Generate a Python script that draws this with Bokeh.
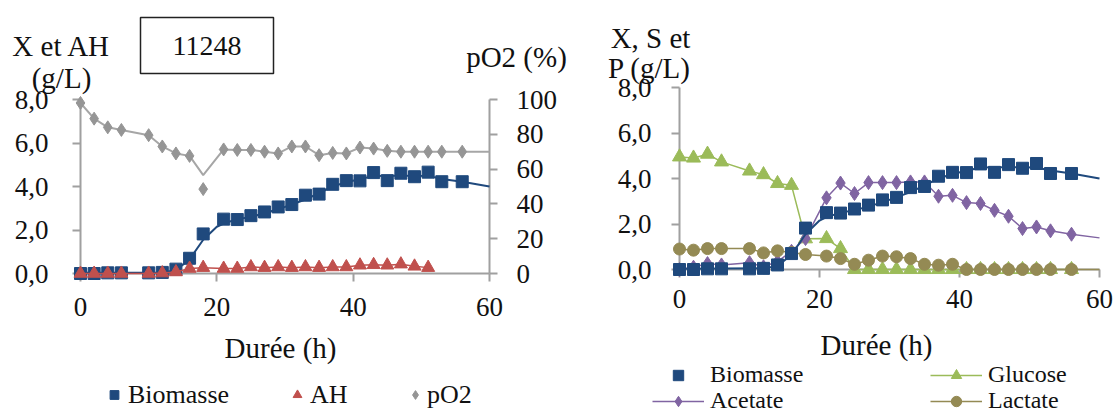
from bokeh.plotting import figure
from bokeh.models import (Range1d, LinearAxis, FixedTicker, CustomJSTickFormatter,
                          Legend, LegendItem)
from bokeh.core.properties import value
from bokeh.layouts import row
from bokeh.embed import file_html
from bokeh.resources import INLINE

# ---------------- data ----------------
t_samp = [0, 2, 4, 6, 10, 12, 14, 16, 18, 21, 23, 25, 27, 29, 31, 33, 35, 37, 39,
          41, 43, 45, 47, 49, 51, 53, 56]
biomasse = [0.0, 0.0, 0.03, 0.03, 0.03, 0.05, 0.2, 0.7, 1.82, 2.5, 2.48, 2.66, 2.83,
            3.06, 3.17, 3.6, 3.65, 4.1, 4.27, 4.26, 4.64, 4.27, 4.61, 4.45, 4.66, 4.22, 4.22]
t_model = [0, 12, 14, 16, 18, 20, 21, 23, 25, 29, 33, 35, 37, 39, 43, 47, 51, 53, 56, 60]
biomasse_model = [0.03, 0.05, 0.15, 0.65, 1.55, 2.15, 2.3, 2.5, 2.6, 2.95, 3.4, 3.7,
                  4.0, 4.2, 4.48, 4.5, 4.48, 4.35, 4.22, 4.0]

t_ah = [0, 2, 4, 6, 10, 12, 14, 16, 18, 21, 23, 25, 27, 29, 31, 33, 35, 37, 39,
        41, 43, 45, 47, 49, 51]
ah = [0.0, 0.0, 0.0, 0.0, 0.0, 0.02, 0.07, 0.23, 0.27, 0.23, 0.23, 0.3, 0.27, 0.3,
      0.27, 0.3, 0.27, 0.3, 0.3, 0.38, 0.4, 0.38, 0.43, 0.33, 0.27]

po2 = [98, 89, 84, 82.5, 79.5, 73, 69, 67.6, 48.5, 71.3, 71, 71, 70, 69, 73, 73, 68,
       69.3, 69, 72.4, 71.8, 70.5, 70, 70, 70, 70, 70]
t_po2_line = [0, 2, 4, 6, 10, 12, 14, 16, 18, 21, 23, 25, 27, 29, 31, 33, 35, 37, 39,
              41, 43, 45, 47, 49, 51, 53, 56, 60]
po2_line = [98, 89, 84, 82.5, 79.5, 73, 69, 67.6, 56.5, 71.3, 71, 71, 70, 69, 73, 73, 68,
            69.3, 69, 72.4, 71.8, 70.5, 70, 70, 70, 70, 70, 70]

glucose = [4.95, 4.9, 5.07, 4.73, 4.33, 4.17, 3.78, 3.7, 1.35, 1.36, 0.92, 0, 0, 0, 0,
           0, 0, 0, 0, 0, 0, 0, 0, 0, 0, 0, 0]
acetate = [0.0, 0.1, 0.26, 0.2, 0.3, 0.12, 0.35, 0.8, 1.36, 3.15, 3.8, 3.34, 3.82, 3.82,
           3.82, 3.85, 3.85, 3.22, 3.26, 2.94, 2.9, 2.6, 2.34, 1.8, 1.87, 1.7, 1.55]
lactate = [0.9, 0.85, 0.92, 0.92, 0.92, 0.73, 0.82, 0.75, 0.66, 0.59, 0.48, 0.23, 0.41,
           0.59, 0.56, 0.48, 0.23, 0.19, 0.23, 0, 0, 0, 0, 0, 0, 0, 0]
t_end = [60]
acetate_end = [1.39]
lactate_end = [0.0]

x_ticks = [0, 20, 40, 60]
y_ticks = [0, 2, 4, 6, 8]
o2_ticks = [0, 20, 40, 60, 80, 100]

# ---------------- style ----------------
FONT = "Liberation Serif"
TXT = "#111111"
GREY_AX = "#A0A0A0"
BLUE = "#1F497D"
RED = "#C0504D"
GREY = "#959595"
GREEN = "#9BBB59"
PURPLE = "#8064A2"
OLIVE = "#948A54"
TICK_FS = "27px"
TITLE_FS = "29px"
TICK_LEN = 8
FIG_H = 409


def tx(g, px):
    return (px - g["fx0"]) / g["sx"]


def vy(g, py):
    return (g["fy0"] - py) / g["sy"]


def style_axis(ax, standoff):
    ax.axis_line_color = GREY_AX
    ax.axis_line_width = 2
    ax.major_tick_line_color = GREY_AX
    ax.major_tick_line_width = 2
    ax.major_tick_out = TICK_LEN
    ax.major_tick_in = 0
    ax.minor_tick_line_color = None
    ax.minor_tick_out = 0
    ax.minor_tick_in = 0
    ax.major_label_text_font = FONT
    ax.major_label_text_font_size = TICK_FS
    ax.major_label_text_color = TXT
    ax.major_label_standoff = standoff
    ax.level = "underlay"


def comma_fmt():
    return CustomJSTickFormatter(code="return tick.toFixed(1).replace('.', ',')")


def make_fig(width, page_left, fx0, fx1, fy0, fy1, ymax):
    # the frame fills the whole canvas; fx0/fx1: page x of t=0 / t=60,
    # fy0/fy1: page y of 0 / ymax
    sx = (fx1 - fx0) / 60.0
    sy = (fy0 - fy1) / ymax
    g = dict(fx0=fx0, fy0=fy0, sx=sx, sy=sy, ymax=ymax, left=page_left)
    p = figure(width=width, height=FIG_H,
               x_range=Range1d(tx(g, page_left), tx(g, page_left + width)),
               y_range=Range1d(vy(g, FIG_H), vy(g, 0)),
               x_axis_location=None, y_axis_location=None,
               output_backend="svg", toolbar_location=None,
               min_border_left=0, min_border_right=0,
               min_border_top=0, min_border_bottom=0)
    p.grid.visible = False
    p.outline_line_color = None
    p.background_fill_color = "white"
    p.border_fill_color = "white"
    return p, g


def add_texts(p, g, texts, pxs, pys, size=TITLE_FS, baseline="alphabetic"):
    p.text(x=[tx(g, v) for v in pxs], y=[vy(g, v) for v in pys], text=texts,
           text_font=value(FONT), text_font_size=value(size), text_color=TXT,
           text_align="center", text_baseline=baseline)


def add_legend(p, g, label, renderers, px_left, py_mid, gw, standoff, fs, h):
    leg = Legend(items=[LegendItem(label=label, renderers=renderers)],
                 location=(px_left - g["left"], FIG_H - (py_mid + h / 2)),
                 orientation="horizontal", padding=0, margin=0, spacing=0,
                 glyph_width=gw, glyph_height=h, label_standoff=standoff,
                 label_height=h, label_text_font=FONT, label_text_font_size=fs,
                 label_text_color=TXT, border_line_alpha=0, background_fill_alpha=0)
    p.add_layout(leg)


# ================= left chart =================
p1, g1 = make_fig(590, 0, 80, 489, 273, 99, 8)
o2_scale = 100 / 8
p1.extra_y_ranges = {"o2": Range1d(p1.y_range.start * o2_scale, p1.y_range.end * o2_scale)}

axl = LinearAxis(fixed_location=0, bounds=(0, 8), ticker=FixedTicker(ticks=y_ticks),
                 formatter=comma_fmt())
style_axis(axl, 24)
p1.add_layout(axl, "left")
axb = LinearAxis(fixed_location=0, bounds=(0, 60), ticker=FixedTicker(ticks=x_ticks))
style_axis(axb, 16)
p1.add_layout(axb, "below")
axr = LinearAxis(y_range_name="o2", fixed_location=60, bounds=(0, 100),
                 ticker=FixedTicker(ticks=o2_ticks))
style_axis(axr, 19)
p1.add_layout(axr, "right")

p1.line(t_po2_line, po2_line, y_range_name="o2", line_color="#A6A6A6", line_width=2)
r_po2 = p1.scatter(t_samp, po2, y_range_name="o2", marker="diamond", size=13,
                   fill_color=GREY, line_color=GREY)
p1.line(t_model, biomasse_model, line_color=BLUE, line_width=2)
r_bio1 = p1.scatter(t_samp, biomasse, marker="square", size=12, fill_color=BLUE,
                    line_color=BLUE)
p1.line(t_ah, ah, line_color=RED, line_width=1.5)
r_ah = p1.scatter(t_ah, ah, marker="triangle", size=13, fill_color=RED, line_color=RED)

# strain box and titles
p1.rect(x=[tx(g1, 206.5)], y=[vy(g1, 45)], width=133, height=56, width_units="screen",
        height_units="screen", fill_color="white", line_color="#222222", line_width=1.5)
add_texts(p1, g1, ["11248"], [206.5], [45], size="28px", baseline="middle")
add_texts(p1, g1, ["X et AH", "(g/L)", "pO2 (%)"], [61, 61, 516], [45, 77, 56])
add_texts(p1, g1, ["Durée (h)"], [280], [347], baseline="middle")

add_legend(p1, g1, "Biomasse", [r_bio1], 103, 395, 22, 3, "26px", 29)
add_legend(p1, g1, "AH", [r_ah], 286, 395, 22, 2, "26px", 29)
add_legend(p1, g1, "pO2", [r_po2], 404, 395, 22, 1, "26px", 29)

# ================= right chart =================
p2, g2 = make_fig(526, 590, 679, 1099, 269, 87, 8)

axl2 = LinearAxis(fixed_location=0, bounds=(0, 8), ticker=FixedTicker(ticks=y_ticks),
                  formatter=comma_fmt())
style_axis(axl2, 20)
p2.add_layout(axl2, "left")
axb2 = LinearAxis(fixed_location=0, bounds=(0, 60), ticker=FixedTicker(ticks=x_ticks))
style_axis(axb2, 12)
p2.add_layout(axb2, "below")

r_gl_l = p2.line(t_samp, glucose, line_color=GREEN, line_width=1.5)
r_gl = p2.scatter(t_samp, glucose, marker="triangle", size=14, fill_color=GREEN,
                  line_color=GREEN)
r_ac_l = p2.line(t_samp + t_end, acetate + acetate_end, line_color=PURPLE, line_width=1.5)
r_ac = p2.scatter(t_samp, acetate, marker="diamond", size=14,
                  fill_color=PURPLE, line_color=PURPLE)
r_la_l = p2.line(t_samp + t_end, lactate + lactate_end, line_color=OLIVE, line_width=1.5)
r_la = p2.scatter(t_samp, lactate, marker="circle", size=12, fill_color=OLIVE,
                  line_color=OLIVE)
p2.line(t_model, biomasse_model, line_color=BLUE, line_width=2)
r_bio2 = p2.scatter(t_samp, biomasse, marker="square", size=12, fill_color=BLUE,
                    line_color=BLUE)

add_texts(p2, g2, ["X, S et", "P (g/L)"], [650, 649], [37, 67])
add_texts(p2, g2, ["Durée (h)"], [876], [344], baseline="middle")

add_legend(p2, g2, "Biomasse", [r_bio2], 652, 375, 52, 6, "24px", 26)
add_legend(p2, g2, "Glucose", [r_gl_l, r_gl], 930, 375, 52, 6, "24px", 26)
add_legend(p2, g2, "Acetate", [r_ac_l, r_ac], 652, 401, 52, 6, "24px", 26)
add_legend(p2, g2, "Lactate", [r_la_l, r_la], 930, 401, 52, 6, "24px", 26)

layout = row(p1, p2, spacing=0)
open("out.html", "w").write(file_html(layout, INLINE))
